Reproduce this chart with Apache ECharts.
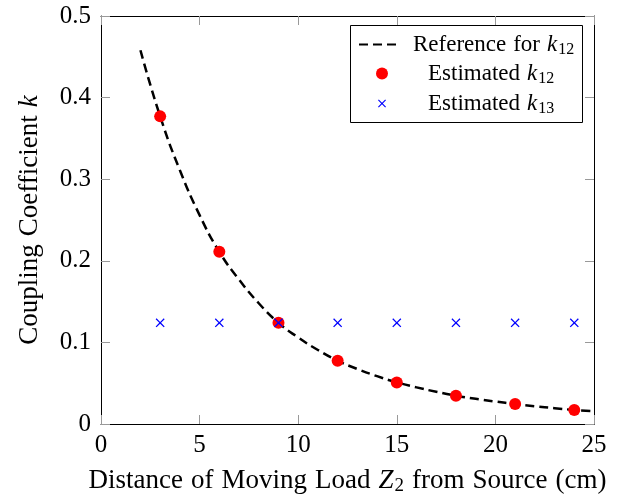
<!DOCTYPE html>
<html>
<head>
<meta charset="utf-8">
<script src="https://cdn.jsdelivr.net/npm/echarts@6/dist/echarts.min.js"></script>
<style>
html, body { margin: 0; padding: 0; background: #fff; }
#main { width: 620px; height: 497px; }
</style>
</head>
<body>
<div id="main"></div>
<script>
var xTicks = [0, 5, 10, 15, 20, 25];
var yTicks = [0, 0.1, 0.2, 0.3, 0.4, 0.5];

// reference curve
var refX = [2, 3, 4, 5, 6, 7, 8, 9, 10, 11, 12, 13, 14, 15, 16, 17, 18, 19, 20, 21, 22, 23, 24, 25];
var refK = [0.458, 0.377, 0.311, 0.256, 0.211, 0.177, 0.148, 0.124, 0.106, 0.0907, 0.0776, 0.0674,
            0.0586, 0.051, 0.0449, 0.0395, 0.0347, 0.0309, 0.0275, 0.0245, 0.0218, 0.0194, 0.0172, 0.0157];

var estX = [3, 6, 9, 12, 15, 18, 21, 24];
var estK12 = [0.377, 0.211, 0.124, 0.0776, 0.051, 0.0347, 0.0245, 0.0172];
var estK13 = [0.124, 0.124, 0.124, 0.124, 0.124, 0.124, 0.124, 0.124];

var serif = "'Liberation Serif', 'DejaVu Serif', serif";
var TICK_FS = 25;
var TITLE_FS = 27;
var LEG_FS = 23;

function pairs(xs, ys) {
    var out = [];
    for (var i = 0; i < xs.length; i++) out.push([xs[i], ys[i]]);
    return out;
}

function richSet(fs) {
    return {
        n: { fontFamily: serif, fontSize: fs, color: '#000' },
        i: { fontFamily: serif, fontSize: fs, fontStyle: 'italic', color: '#000' },
        s: { fontFamily: serif, fontSize: Math.round(fs * 0.7), color: '#000', padding: [Math.round(fs * 0.45), 0, 0, 1] },
        sp: { fontFamily: serif, fontSize: fs, width: Math.round(fs * 0.31) }
    };
}

var legendText = {
    'Reference for k12': '{n|Reference}{sp| }{n|for}{sp| }{i|k}{s|12}',
    'Estimated k12': '{n|Estimated}{sp| }{i|k}{s|12}',
    'Estimated k13': '{n|Estimated}{sp| }{i|k}{s|13}'
};

function legendFmt(name) { return legendText[name]; }

// thin filled "x" so it needs no stroke
var crossPath = 'path://M0,1L1,0L5,4L9,0L10,1L6,5L10,9L9,10L5,6L1,10L0,9L4,5Z';
var blue = '#0000ff';

var mychart = echarts.init(document.getElementById('main'));

var axisCommon = {
    type: 'value',
    axisLine: { show: true, onZero: false, lineStyle: { color: '#000', width: 1 } },
    axisTick: { show: true, inside: true, length: 9, lineStyle: { color: '#999', width: 1 } },
    splitLine: { show: false }
};

var option = {
    backgroundColor: '#fff',
    animation: false,
    grid: { left: 101, right: 26, top: 16, bottom: 73, outerBoundsMode: 'none' },
    xAxis: [
        Object.assign({}, axisCommon, {
            position: 'bottom',
            min: xTicks[0], max: xTicks[xTicks.length - 1], interval: xTicks[1] - xTicks[0],
            axisLabel: { fontFamily: serif, fontSize: TICK_FS, color: '#000', margin: 9 },
            name: '{n|Distance}{sp| }{n|of}{sp| }{n|Moving}{sp| }{n|Load}{sp| }{i|Z}{s|2}{sp| }{n|from}{sp| }{n|Source}{sp| }{n|(cm)}',
            nameLocation: 'middle',
            nameGap: 41,
            nameTextStyle: { rich: richSet(TITLE_FS) }
        }),
        Object.assign({}, axisCommon, {
            position: 'top',
            min: xTicks[0], max: xTicks[xTicks.length - 1], interval: xTicks[1] - xTicks[0],
            axisLabel: { show: false }
        })
    ],
    yAxis: [
        Object.assign({}, axisCommon, {
            position: 'left',
            min: yTicks[0], max: yTicks[yTicks.length - 1], interval: 0.1,
            axisLabel: { fontFamily: serif, fontSize: TICK_FS, color: '#000', margin: 10 },
            name: '{n|Coupling}{sp| }{n|Coefficient}{sp| }{i|k}',
            nameLocation: 'middle',
            nameRotate: 90,
            nameGap: 58,
            nameTextStyle: { rich: richSet(TITLE_FS) }
        }),
        Object.assign({}, axisCommon, {
            position: 'right',
            min: yTicks[0], max: yTicks[yTicks.length - 1], interval: 0.1,
            axisLabel: { show: false }
        })
    ],
    graphic: [{
        type: 'rect',
        left: 350, top: 25,
        shape: { width: 232, height: 97 },
        style: { fill: '#fff', stroke: '#000', lineWidth: 1 },
        z: 5
    }],
    legend: [
        {
            data: [{ name: 'Reference for k12', itemStyle: { opacity: 0 } }],
            left: 358, top: 33, padding: 0,
            itemWidth: 42, itemHeight: 14, formatter: legendFmt, z: 10,
            textStyle: { rich: richSet(LEG_FS), padding: [0, 0, 0, 7] }
        },
        {
            data: ['Estimated k12'], left: 376, top: 62, padding: 0,
            itemWidth: 12, itemHeight: 12, formatter: legendFmt, z: 10,
            textStyle: { rich: richSet(LEG_FS), padding: [0, 0, 0, 35] }
        },
        {
            data: ['Estimated k13'], left: 378, top: 92, padding: 0,
            itemWidth: 8, itemHeight: 8, formatter: legendFmt, z: 10,
            textStyle: { rich: richSet(LEG_FS), padding: [0, 0, 0, 37] }
        }
    ],
    series: [
        {
            name: 'Reference for k12',
            type: 'line',
            data: pairs(refX, refK),
            smooth: true,
            symbol: 'none',
            lineStyle: { color: '#000', width: 2.5, type: [9, 5] },
            itemStyle: { color: '#000' },
            z: 2
        },
        {
            name: 'Estimated k12',
            type: 'scatter',
            data: pairs(estX, estK12),
            symbol: 'circle',
            symbolSize: 12,
            itemStyle: { color: '#ff0000', opacity: 1 },
            z: 3
        },
        {
            name: 'Estimated k13',
            type: 'scatter',
            data: pairs(estX, estK13),
            symbol: crossPath,
            symbolSize: 9,
            itemStyle: { color: blue, opacity: 1 },
            z: 4
        }
    ]
};

mychart.setOption(option);
</script>
</body>
</html>
